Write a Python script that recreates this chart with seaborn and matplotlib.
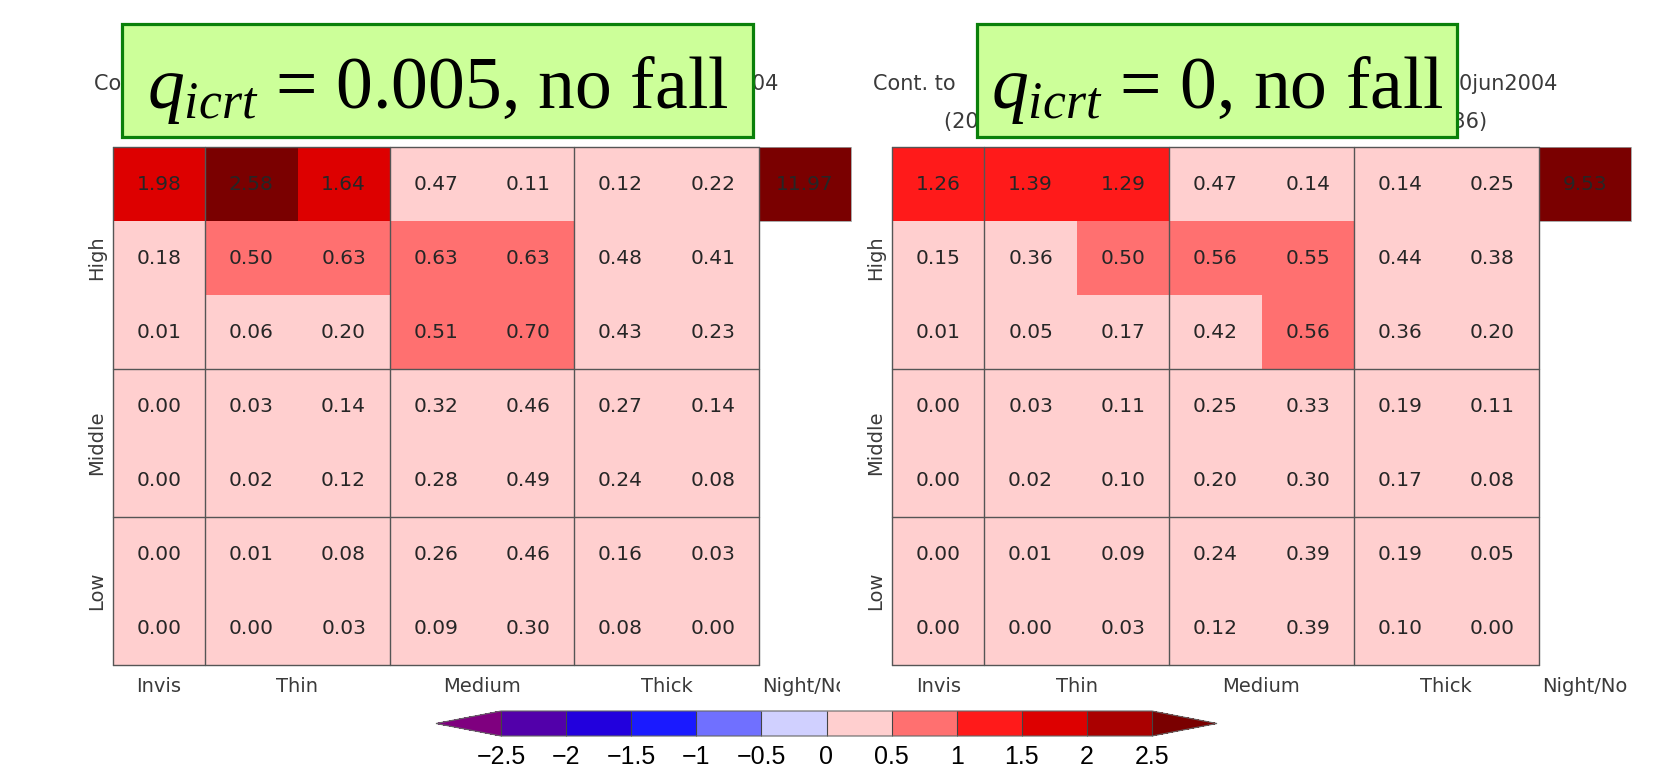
import numpy as np
import pandas as pd
import matplotlib
matplotlib.use("Agg")
import matplotlib.pyplot as plt
from matplotlib.colors import ListedColormap, BoundaryNorm
from matplotlib.patches import Rectangle
import seaborn as sns

# ---- ISCCP-style bins --------------------------------------------------
ctp_groups = ["High", "Middle", "Low"]
ctp_group_sizes = [3, 2, 2]
tau_groups = ["Invis", "Thin", "Medium", "Thick", "Night/No"]
tau_group_sizes = [1, 2, 2, 2, 1]

# ---- panel values (rows: top pressure bin -> bottom) -------------------
panel1_grid = [
    [1.98, 2.58, 1.64, 0.47, 0.11, 0.12, 0.22],
    [0.18, 0.50, 0.63, 0.63, 0.63, 0.48, 0.41],
    [0.01, 0.06, 0.20, 0.51, 0.70, 0.43, 0.23],
    [0.00, 0.03, 0.14, 0.32, 0.46, 0.27, 0.14],
    [0.00, 0.02, 0.12, 0.28, 0.49, 0.24, 0.08],
    [0.00, 0.01, 0.08, 0.26, 0.46, 0.16, 0.03],
    [0.00, 0.00, 0.03, 0.09, 0.30, 0.08, 0.00],
]
panel1_night = 11.97

panel2_grid = [
    [1.26, 1.39, 1.29, 0.47, 0.14, 0.14, 0.25],
    [0.15, 0.36, 0.50, 0.56, 0.55, 0.44, 0.38],
    [0.01, 0.05, 0.17, 0.42, 0.56, 0.36, 0.20],
    [0.00, 0.03, 0.11, 0.25, 0.33, 0.19, 0.11],
    [0.00, 0.02, 0.10, 0.20, 0.30, 0.17, 0.08],
    [0.00, 0.01, 0.09, 0.24, 0.39, 0.19, 0.05],
    [0.00, 0.00, 0.03, 0.12, 0.39, 0.10, 0.00],
]
panel2_night = 9.53

panel_labels = [r"$q_{icrt}$ = 0.005, no fall", r"$q_{icrt}$ = 0, no fall"]
title_line1 = "Cont. to    SWCRF diff by ISCCP cloud type, 01jun2004-30jun2004"
title_line2 = "(200406 monthly mean, ISCCP D1 3-hourly, N=736)"

# ---- colour scale ------------------------------------------------------
levels = [-2.5, -2.0, -1.5, -1.0, -0.5, 0.0, 0.5, 1.0, 1.5, 2.0, 2.5]
level_colors = ["#5200aa", "#2200dd", "#1a1aff", "#7070ff", "#d0d0ff",
                "#ffcfcf", "#ff7070", "#ff1a1a", "#dd0000", "#aa0000"]
under_color = "#7f007f"
over_color = "#7a0000"
cbar_tick_labels = ["\u22122.5", "\u22122", "\u22121.5", "\u22121", "\u22120.5",
                    "0", "0.5", "1", "1.5", "2", "2.5"]

sns.set_theme(style="white")
plt.rcParams["font.family"] = ["DejaVu Sans"]
plt.rcParams["mathtext.fontset"] = "custom"
plt.rcParams["mathtext.rm"] = "Liberation Serif"
plt.rcParams["mathtext.it"] = "Liberation Serif:italic"

cmap = ListedColormap(level_colors)
cmap.set_under(under_color)
cmap.set_over(over_color)
norm = BoundaryNorm(levels, cmap.N)

W, H = 1655, 764
fig = plt.figure(figsize=(W / 100, H / 100), dpi=100)
fig.patch.set_facecolor("white")

n_rows = sum(ctp_group_sizes)
n_cols = sum(tau_group_sizes[:-1])
line_col = "#555555"
text_col = "#3a3a3a"


def px_axes(x0, y0, x1, y1):
    return fig.add_axes([x0 / W, 1 - y1 / H, (x1 - x0) / W, (y1 - y0) / H])


def draw_panel(ax, grid, night):
    arr = np.full((n_rows, n_cols + 1), np.nan)
    arr[:, :n_cols] = np.array(grid)
    arr[0, n_cols] = night
    df = pd.DataFrame(arr)
    sns.heatmap(df, ax=ax, mask=df.isna(), cmap=cmap, norm=norm, cbar=False,
                annot=True, fmt=".2f",
                annot_kws=dict(color="#262626", fontsize=14.5),
                xticklabels=False, yticklabels=False)
    ax.set_xlim(0, n_cols + 1)
    ax.set_ylim(n_rows, 0)
    ax.set_xlabel("")
    ax.set_ylabel("")

    # group separators and outer frame
    xb = np.cumsum([0] + tau_group_sizes[:-1])
    yb = np.cumsum([0] + ctp_group_sizes)
    for x in xb:
        ax.plot([x, x], [0, n_rows], color=line_col, lw=1.0, clip_on=False)
    for y in yb:
        ax.plot([0, n_cols], [y, y], color=line_col, lw=1.0, clip_on=False)
    ax.add_patch(Rectangle((n_cols, 0), 1, 1, fill=False, ec="#9a9a9a",
                           lw=0.6, clip_on=False))

    # group labels
    x_centers = list(xb[:-1] + np.array(tau_group_sizes[:-1]) / 2) + [n_cols + 0.5]
    for xc, name in zip(x_centers, tau_groups):
        ax.text(xc, 7.36, name, ha="center", va="baseline", fontsize=14,
                color=text_col)
    y_centers = yb[:-1] + np.array(ctp_group_sizes) / 2
    for yc, name in zip(y_centers, ctp_groups):
        ax.text(-0.175, yc, name, ha="center", va="center", rotation=90,
                fontsize=14, color=text_col)

    # two-line caption above the histogram
    ax.text(n_cols / 2, -0.771, title_line1, ha="center", va="baseline",
            fontsize=15, color=text_col)
    ax.text(n_cols / 2, -0.257, title_line2, ha="center", va="baseline",
            fontsize=15, color=text_col)


ax1 = px_axes(113, 147, 851, 665)
draw_panel(ax1, panel1_grid, panel1_night)
ax2 = px_axes(892, 147, 1631, 665)
draw_panel(ax2, panel2_grid, panel2_night)

# the right panel's white margin trims the end of the left panel's last label
fig.add_artist(Rectangle((840 / W, 1 - 705 / H), 48 / W, 37 / H,
                         transform=fig.transFigure, fc="white", ec="none",
                         zorder=5))

# highlighted experiment labels
box_spans = [(122, 753), (977, 1457)]
for (x0, x1), label in zip(box_spans, panel_labels):
    fig.add_artist(Rectangle((x0 / W, 1 - 137 / H), (x1 - x0) / W, 113 / H,
                             transform=fig.transFigure, fc="#ccff99",
                             ec="#0a800a", lw=2.3, zorder=10))
    fig.text((x0 + x1) / 2 / W, 1 - 108 / H, label, ha="center", va="baseline",
             fontsize=53, family="Liberation Serif", color="black", zorder=11)

# shared colour bar
cax = px_axes(436, 711, 1217, 736)
sm = matplotlib.cm.ScalarMappable(norm=norm, cmap=cmap)
cb = fig.colorbar(sm, cax=cax, orientation="horizontal", extend="both",
                  extendfrac=0.1, drawedges=True, ticks=levels)
cb.set_ticklabels(cbar_tick_labels)
cb.outline.set_edgecolor("#666666")
cb.outline.set_linewidth(0.8)
cb.dividers.set_color("#444444")
cb.dividers.set_linewidth(0.8)
cb.ax.tick_params(length=0, pad=6.5, labelsize=18, colors="black")
for t in cb.ax.get_xticklabels():
    t.set_fontfamily(["Liberation Sans", "DejaVu Sans"])

fig.savefig("out.png", dpi=100, facecolor="white")
